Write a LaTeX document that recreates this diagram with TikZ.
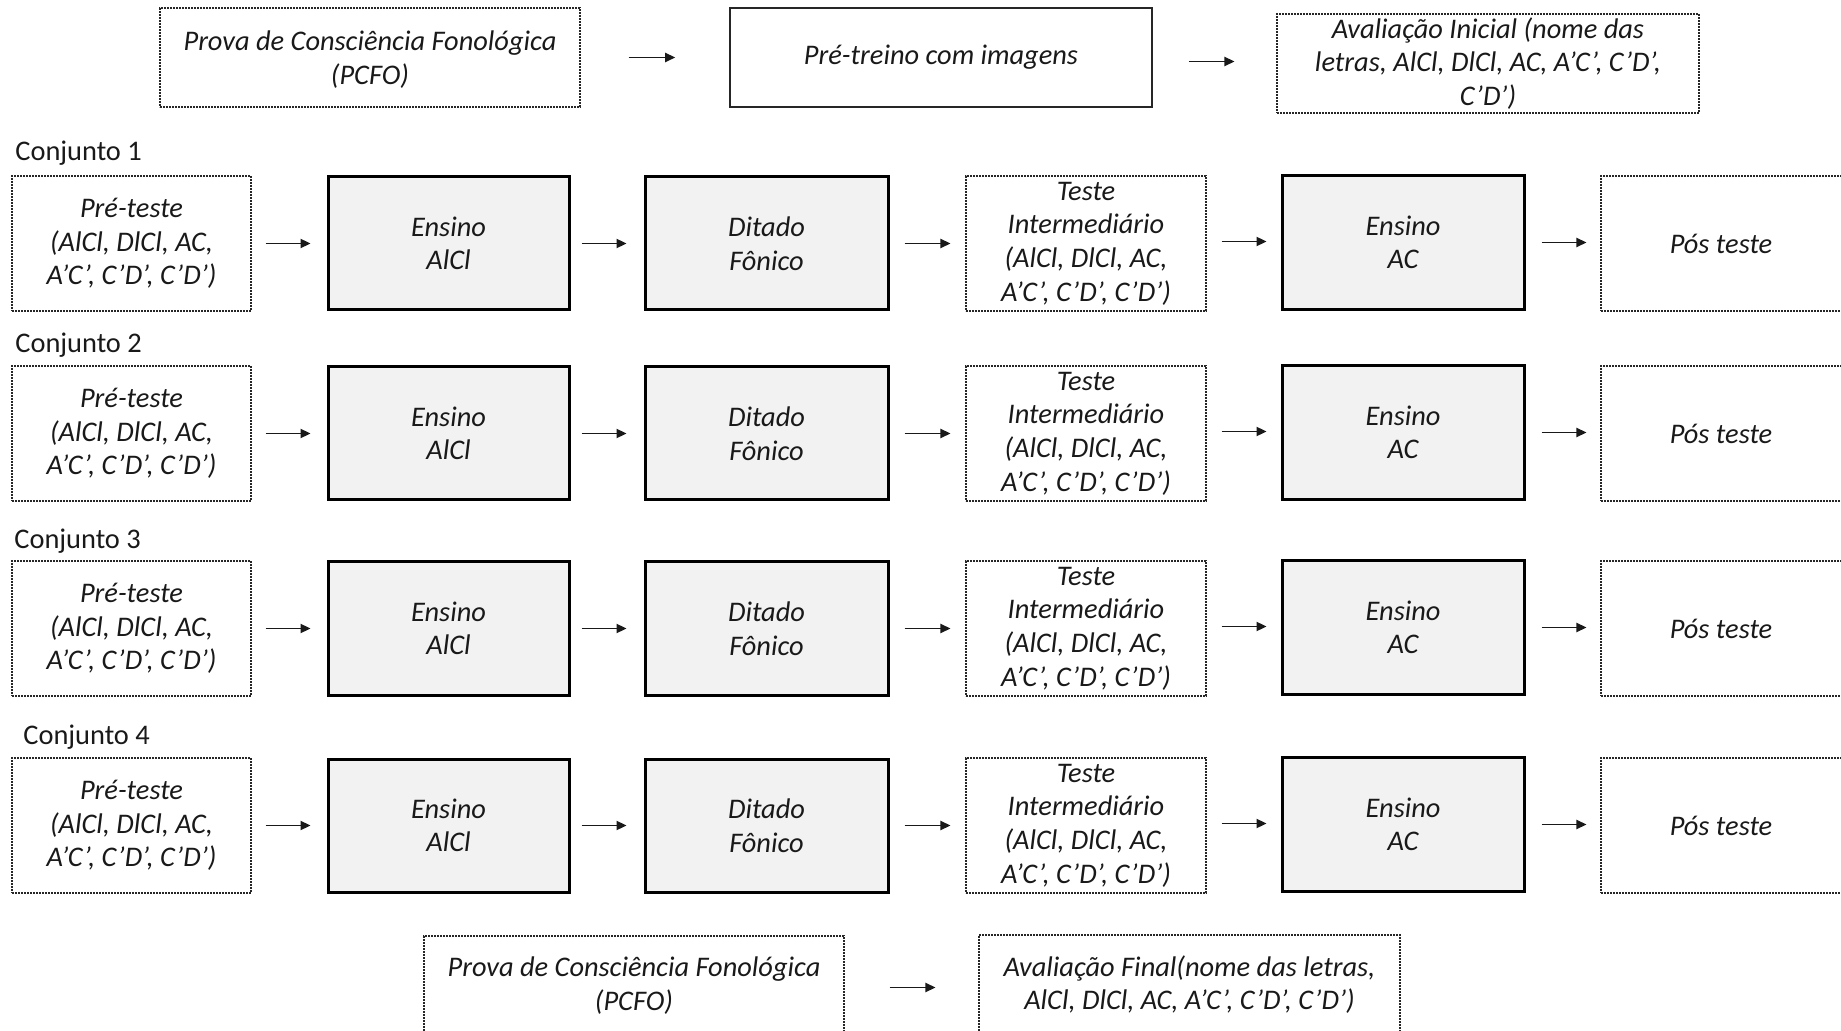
\documentclass[tikz,border=0pt]{standalone}
\usepackage{fontspec}
\setmainfont{Carlito}
\usetikzlibrary{arrows.meta}
\definecolor{boxgray}{HTML}{F2F2F2}
\tikzset{
  base/.style={inner sep=0pt, align=center, font=\itshape\fontsize{14.2pt}{16.8pt}\selectfont, text=black!90},
  dotbox/.style={base, draw=black!85, line width=0.55pt, dash pattern=on 0.9pt off 0.6pt},
  solidbox/.style={base, draw=black!85, line width=0.8pt},
  thickbox/.style={base, draw=black, line width=1.5pt, fill=boxgray},
  arr/.style={-{Triangle[length=5pt,width=4.6pt]}, line width=0.75pt, black!90},
  setlabel/.style={anchor=west, inner sep=0pt, font=\fontsize{14.2pt}{16pt}\selectfont, text=black!90}
}
\begin{document}
\begin{tikzpicture}[x=0.5pt,y=-0.5pt]
\useasboundingbox (0,0) rectangle (1841,1031);
\clip (0,0) rectangle (1841,1031);
% top row
\node[dotbox, minimum width=210pt, minimum height=49.5pt, text depth=0pt] (pcfo1) at (370,57.5) {\rule{0pt}{3pt}Prova de Consciência Fonológica\\(PCFO)};
\node[solidbox, minimum width=211pt, minimum height=49.5pt] (pretr) at (941,57.5) {\raisebox{-1.5pt}{Pré-treino com imagens}};
\node[dotbox, minimum width=211pt, minimum height=49.5pt] (avini) at (1488,63.5) {Avaliação Inicial (nome das\\letras, AlCl, DlCl, AC, A’C’, C’D’,\\C’D’)};
\draw[arr, shorten <=24pt, shorten >=27pt] (pcfo1.east) -- (pretr.west);
\draw[arr, shorten <=18pt, shorten >=21pt] ([yshift=-2pt]pretr.east) -- ([yshift=-2pt]pretr.east -| avini.west);
% rows
\foreach \r/\yc/\ly/\lx in {1/243.5/153.5/15, 2/433.5/345.5/15, 3/628.5/541.5/14, 4/825.5/737.5/23}{
  \node[setlabel] (lab\r) at (\lx,\ly) {Conjunto \r};
  \node[dotbox, minimum width=119.5pt, minimum height=67.5pt] (pre\r) at (131.5,\yc) {Pré-teste\\(AlCl, DlCl, AC,\\A’C’, C’D’, C’D’)};
  \node[thickbox, minimum width=120.5pt, minimum height=66.5pt] (ens\r) at (448.5,\yc) {Ensino\\AlCl};
  \node[thickbox, minimum width=121.5pt, minimum height=66.5pt] (dit\r) at (766.5,\yc) {Ditado\\Fônico};
  \node[dotbox, minimum width=120pt, minimum height=67.5pt] (tes\r) at (1086,\yc) {Teste\\Intermediário\\(AlCl, DlCl, AC,\\A’C’, C’D’, C’D’)};
  \node[thickbox, minimum width=121pt, minimum height=67pt] (eac\r) at (1403,\yc-1) {Ensino\\AC};
  \node[dotbox, minimum width=130pt, minimum height=67.5pt] (pos\r) at (1731,\yc) {};
  \node[base] (post\r) at (1721,\yc) {Pós teste};
  \draw[arr, shorten <=7pt, shorten >=8pt] (pre\r.east) -- (pre\r.east -| ens\r.west);
  \draw[arr, shorten <=5.5pt, shorten >=8.5pt] (ens\r.east) -- (ens\r.east -| dit\r.west);
  \draw[arr, shorten <=7.5pt, shorten >=7.5pt] (dit\r.east) -- (dit\r.east -| tes\r.west);
  \draw[arr, shorten <=7.5pt, shorten >=7pt] ([yshift=1pt]tes\r.east) -- ([yshift=1pt]tes\r.east -| eac\r.west);
  \draw[arr, shorten <=8pt, shorten >=7pt] (eac\r.east) -- (eac\r.east -| pos\r.west);
}
% bottom row
\node[dotbox, minimum width=210pt, minimum height=49.5pt] (pcfo2) at (634,985.5) {Prova de Consciência Fonológica\\(PCFO)};
\node[dotbox, minimum width=210.5pt, minimum height=49.5pt] (avfin) at (1189.5,984.5) {Avaliação Final(nome das letras,\\AlCl, DlCl, AC, A’C’, C’D’, C’D’)};
\draw[arr, shorten <=22.5pt, shorten >=21.5pt] ([yshift=-1pt]pcfo2.east) -- ([yshift=-1pt]pcfo2.east -| avfin.west);
\end{tikzpicture}
\end{document}
